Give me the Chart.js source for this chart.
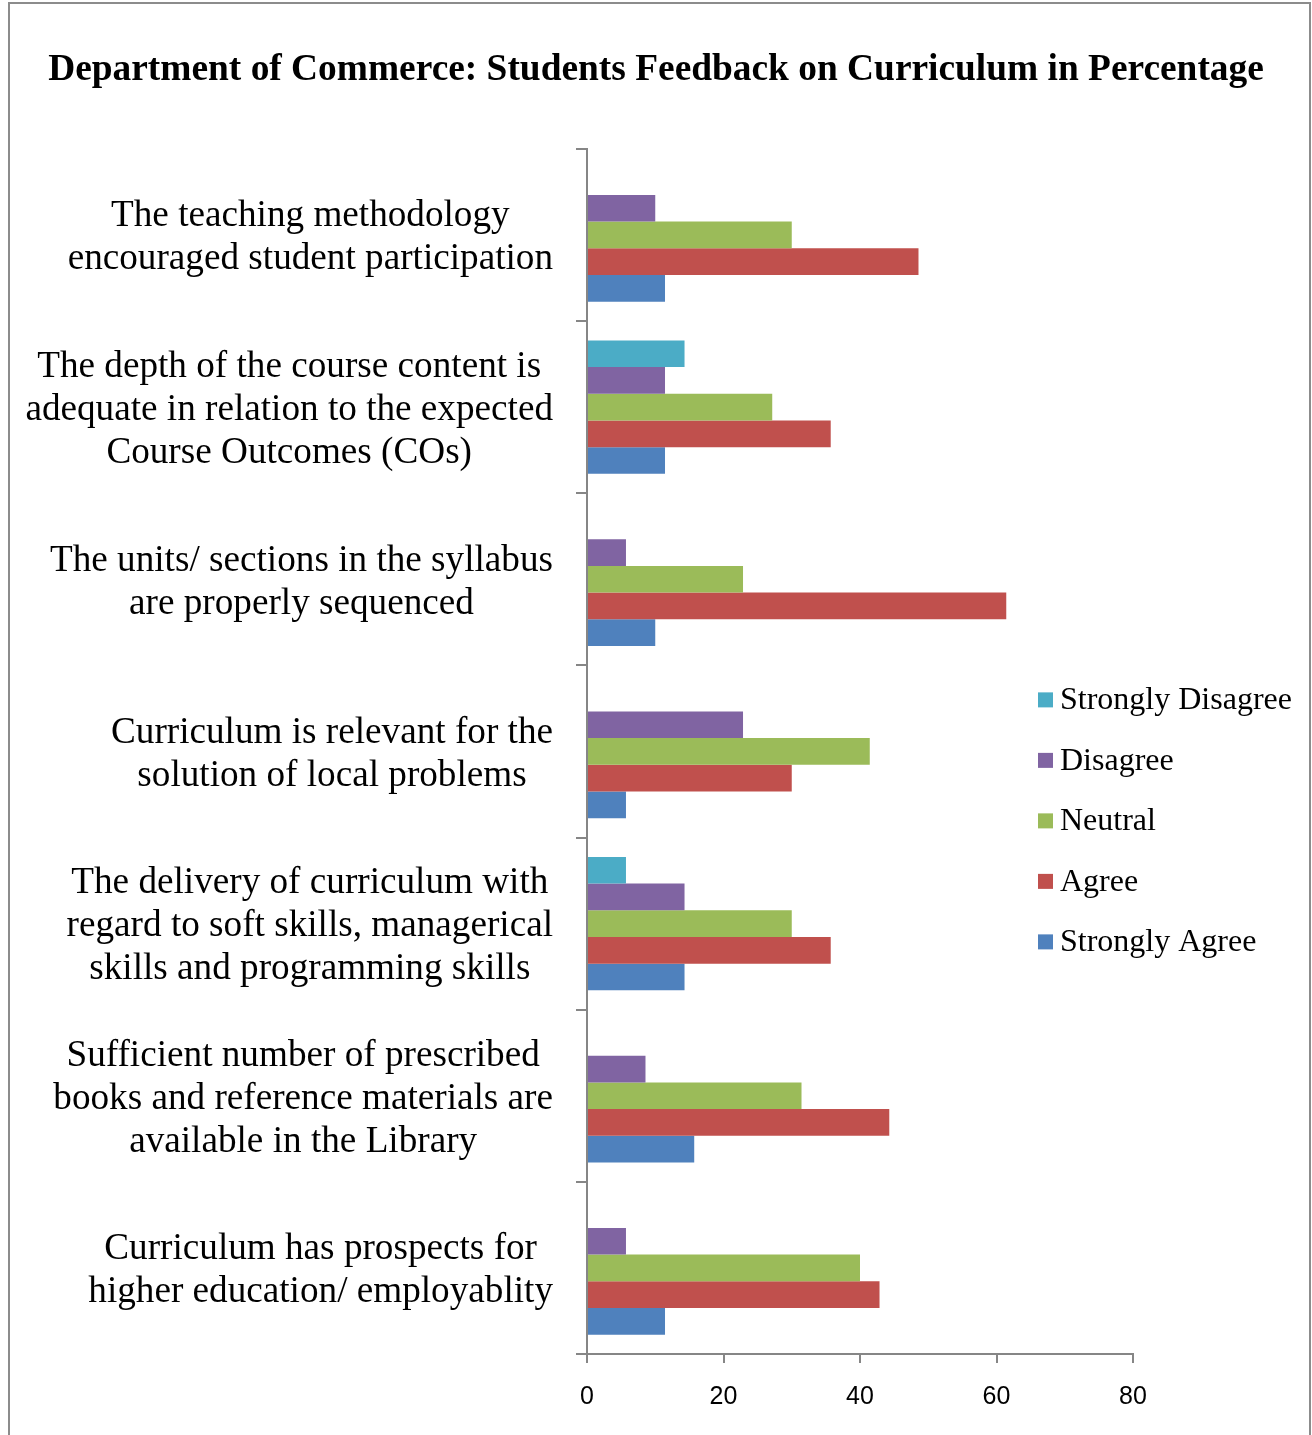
<!DOCTYPE html>
<html>
<head>
<meta charset="utf-8">
<script src="https://cdn.jsdelivr.net/npm/chart.js@4.4.1/dist/chart.umd.min.js"></script>
<style>
  html, body { margin: 0; padding: 0; background: #fff; overflow: hidden; }
  canvas { display: block; }
</style>
</head>
<body>
<canvas id="grafico" width="1312" height="1435"></canvas>
<script>
const categorias = [
    ['The teaching methodology', 'encouraged student participation'],
    ['The depth of the course content is', 'adequate in relation to the expected', 'Course Outcomes (COs)'],
    ['The units/ sections in the syllabus', 'are properly sequenced'],
    ['Curriculum is relevant for the', 'solution of local problems'],
    ['The delivery of curriculum with', 'regard to soft skills, managerical', 'skills and programming skills'],
    ['Sufficient number of prescribed', 'books and reference materials are', 'available in the Library'],
    ['Curriculum has prospects for', 'higher education/ employablity']
];

// percentages, same order as categorias (top to bottom)
const stronglyDisagree = [0, 14.29, 0, 0, 5.71, 0, 0];
const disagree = [10, 11.43, 5.71, 22.86, 14.29, 8.57, 5.71];
const neutral = [30, 27.14, 22.86, 41.43, 30, 31.43, 40];
const agree = [48.57, 35.71, 61.43, 30, 35.71, 44.29, 42.86];
const stronglyAgree = [11.43, 11.43, 10, 5.71, 14.29, 15.71, 11.43];

const ticksX = [0, 20, 40, 60, 80];

const cinza = '#868686';
const serif = 'Liberation Serif';

// outer frame of the chart
const moldura = {
    id: 'moldura',
    beforeDraw(chart) {
        const c = chart.ctx;
        c.save();
        c.strokeStyle = '#8c8c8c';
        c.lineWidth = 2;
        c.strokeRect(9, 3, chart.width - 11, chart.height + 20);
        c.restore();
    }
};

// category labels: each block right aligned, lines centred inside it
const rotulos = {
    id: 'rotulos',
    afterDraw(chart) {
        const c = chart.ctx;
        const escalaY = chart.scales.y;
        const direita = chart.chartArea.left - 34;
        c.save();
        c.font = '37.2px "' + serif + '"';
        c.fillStyle = '#000';
        c.textAlign = 'center';
        c.textBaseline = 'middle';
        chart.data.labels.forEach((linhas, i) => {
            const largura = Math.max(...linhas.map(l => c.measureText(l).width));
            const cx = direita - largura / 2;
            const cy = escalaY.getPixelForValue(i) + 3;
            linhas.forEach((l, j) => {
                c.fillText(l, cx, cy + (j - (linhas.length - 1) / 2) * 43);
            });
        });
        c.restore();
    }
};

// legend on the right, overlapping the empty part of the plot
const legenda = {
    id: 'legenda',
    afterDraw(chart) {
        const c = chart.ctx;
        const x = chart.chartArea.right - 95;
        const y0 = chart.chartArea.top + 551;
        c.save();
        c.font = '32px "' + serif + '"';
        c.textBaseline = 'middle';
        c.textAlign = 'left';
        chart.data.datasets.forEach((ds, i) => {
            const y = y0 + i * 60.5;
            c.fillStyle = ds.backgroundColor;
            c.fillRect(x, y - 7.5, 15, 15);
            c.fillStyle = '#000';
            c.fillText(ds.label, x + 22, y + 1);
        });
        c.restore();
    }
};

const ctx = document.getElementById('grafico').getContext('2d');

let grafico = new Chart(ctx, {
    type: 'bar',
    data: {
        labels: categorias,
        datasets: [
            { label: 'Strongly Disagree', data: stronglyDisagree, backgroundColor: '#4BACC6' },
            { label: 'Disagree', data: disagree, backgroundColor: '#8064A2' },
            { label: 'Neutral', data: neutral, backgroundColor: '#9BBB59' },
            { label: 'Agree', data: agree, backgroundColor: '#C0504D' },
            { label: 'Strongly Agree', data: stronglyAgree, backgroundColor: '#4F81BD' }
        ]
    },
    options: {
        indexAxis: 'y',
        responsive: false,
        animation: false,
        datasets: {
            bar: { categoryPercentage: 0.775, barPercentage: 1, borderWidth: 0 }
        },
        layout: { padding: { left: 0, right: 0, top: 0, bottom: 4 } },
        plugins: {
            legend: { display: false },
            tooltip: { enabled: false },
            title: {
                display: true,
                text: 'Department of Commerce: Students Feedback on Curriculum in Percentage',
                color: '#000',
                font: { family: serif, size: 37.4, weight: 'bold' },
                padding: { top: 48, bottom: 56 }
            }
        },
        scales: {
            x: {
                type: 'linear',
                min: ticksX[0],
                max: ticksX[ticksX.length - 1],
                ticks: {
                    stepSize: ticksX[1] - ticksX[0],
                    color: '#000',
                    padding: 19,
                    font: { family: 'Liberation Sans', size: 25 }
                },
                grid: { drawOnChartArea: false, drawTicks: true, tickLength: 9, color: cinza, lineWidth: 2 },
                border: { color: cinza, width: 2 }
            },
            y: {
                type: 'category',
                ticks: { display: false },
                grid: { drawOnChartArea: false, drawTicks: true, tickLength: 11, offset: true, color: cinza, lineWidth: 2 },
                border: { color: cinza, width: 2 },
                afterFit(s) { s.width = 587; }
            },
            // empty space on the right where the legend sits
            reserva: {
                type: 'linear',
                axis: 'y',
                position: 'right',
                grid: { display: false },
                border: { display: false },
                ticks: { display: false },
                afterFit(s) { s.width = 1312 - 1133; }
            }
        }
    },
    plugins: [moldura, rotulos, legenda]
});
</script>
</body>
</html>
